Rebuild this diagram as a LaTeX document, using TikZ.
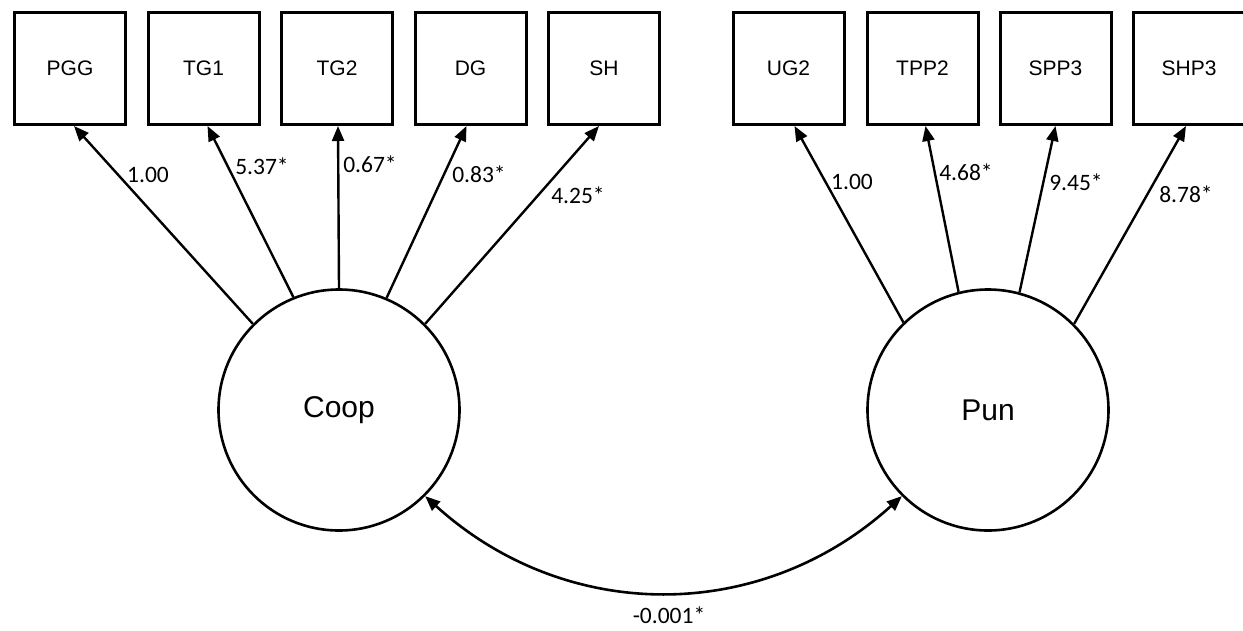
\documentclass[tikz,border=0pt]{standalone}
\usepackage{fontspec}
\setmainfont{Liberation Sans}
\newfontfamily\lblfont{Carlito}
\usetikzlibrary{arrows.meta,calc}
\begin{document}
\begin{tikzpicture}[x=1pt,y=-1pt,
  obs/.style={draw, line width=3pt, minimum width=111pt, minimum height=112pt, inner sep=0pt, font=\fontsize{21}{22}\selectfont},
  lat/.style={circle, draw, line width=2.6pt, minimum size=241pt, inner sep=0pt, font=\fontsize{30}{32}\selectfont},
  load/.style={line width=2.4pt, -{Triangle[length=15pt,width=12pt]}},
  lbl/.style={font=\lblfont\fontsize{23.5}{25}\selectfont, inner sep=0pt},
  cov/.style={line width=2.6pt, {Triangle[length=15pt,width=12pt]}-{Triangle[length=15pt,width=12pt]}}]
\useasboundingbox (0,0) rectangle (1243,630);
% observed boxes
\node[obs] (pgg)  at (70,68.5)    {PGG};
\node[obs] (tg1)  at (203.5,68.5) {TG1};
\node[obs] (tg2)  at (337,68.5)   {TG2};
\node[obs] (dg)   at (470.5,68.5) {DG};
\node[obs] (sh)   at (604,68.5)   {SH};
\node[obs] (ug2)  at (788.5,68.5) {UG2};
\node[obs] (tpp2) at (922.5,68.5) {TPP2};
\node[obs] (spp3) at (1055.5,68.5){SPP3};
\node[obs] (shp3) at (1189,68.5)  {SHP3};
% latent
\node[lat] (coop) at (339,410) {Coop};
\node[lat] (pun)  at (988,410) {Pun};
% loadings
\draw[load] (coop.135)   -- ($(pgg.south)+(4,0)$);
\draw[load] (coop.112.6) -- ($(tg1.south)+(4,0)$);
\draw[load] (coop.90)    -- ($(tg2.south)+(1,0)$);
\draw[load] (coop.67.4)  -- ($(dg.south)+(-4,0)$);
\draw[load] (coop.45)    -- ($(sh.south)+(-5,0)$);
\draw[load] (pun.134.7)  -- ($(ug2.south)+(6,0)$);
\draw[load] (pun.104.8)  -- ($(tpp2.south)+(3,0)$);
\draw[load] (pun.75.2)   -- ($(spp3.south)+(0,0)$);
\draw[load] (pun.45.3)   -- ($(shp3.south)+(-3,0)$);
% labels
\node[lbl] (l1) at (148,175) {1.00};
\node[lbl] (l2) at (262,166) {5.37*};
\node[lbl] (l3) at (370,164) {0.67*};
\node[lbl] (l4) at (479,174) {0.83*};
\node[lbl] (l5) at (578,195) {4.25*};
\node[lbl] (l6) at (852,182) {1.00};
\node[lbl] (l7) at (966,172) {4.68*};
\node[lbl] (l8) at (1076,182) {9.45*};
\node[lbl] (l9) at (1186,194) {8.78*};
% covariance
\draw[cov] (coop.-45) .. controls (566,624) and (761,624) .. (pun.-135);
\node[lbl] (lc) at (669,615) {-0.001*};
\end{tikzpicture}
\end{document}
